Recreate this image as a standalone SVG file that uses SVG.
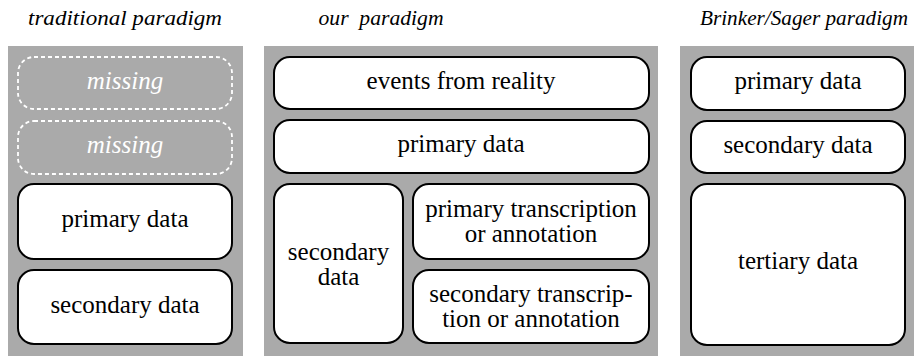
<svg xmlns="http://www.w3.org/2000/svg" width="914" height="356" viewBox="0 0 914 356">
  <style>
    .panel { fill: #aaaaaa; }
    .box { fill: #ffffff; stroke: #000000; stroke-width: 2; }
    .missing { fill: none; stroke: #ffffff; stroke-width: 1.8; stroke-dasharray: 4 3; }
    text { font-family: "Liberation Serif", "Tinos", "Noto Serif", "DejaVu Serif", "Times New Roman", Times, serif; font-size: 25px; fill: #000000; text-anchor: middle; }
    .title { font-size: 22px; font-style: italic; }
    .ghost { fill: #ffffff; font-style: italic; }
  </style>
  <rect width="914" height="356" fill="#ffffff"/>

  <!-- column titles -->
  <g id="titles">
    <text class="title" x="125" y="25" textLength="194" lengthAdjust="spacingAndGlyphs">traditional paradigm</text>
    <text class="title" x="381" y="25" textLength="125" lengthAdjust="spacingAndGlyphs" xml:space="preserve">our  paradigm</text>
    <text class="title" x="804" y="25" textLength="208" lengthAdjust="spacingAndGlyphs">Brinker/Sager paradigm</text>
  </g>

  <!-- grey column backgrounds -->
  <g id="panels">
    <rect class="panel" x="8" y="46" width="235" height="310"/>
    <rect class="panel" x="264" y="46" width="394" height="310"/>
    <rect class="panel" x="680" y="46" width="234" height="310"/>
  </g>

  <!-- traditional paradigm -->
  <g id="trad-missing-1">
    <rect class="missing" x="18" y="57" width="214" height="52" rx="16"/>
    <text class="ghost" x="125" y="89">missing</text>
  </g>
  <g id="trad-missing-2">
    <rect class="missing" x="18" y="121" width="214" height="53" rx="16"/>
    <text class="ghost" x="125" y="153">missing</text>
  </g>
  <g id="trad-primary">
    <rect class="box" x="18" y="184" width="214" height="75" rx="16"/>
    <text x="125" y="227">primary data</text>
  </g>
  <g id="trad-secondary">
    <rect class="box" x="18" y="270" width="214" height="74" rx="16"/>
    <text x="125" y="313">secondary data</text>
  </g>

  <!-- our paradigm -->
  <g id="our-events">
    <rect class="box" x="274" y="57" width="375" height="52" rx="16"/>
    <text x="461" y="89">events from reality</text>
  </g>
  <g id="our-primary">
    <rect class="box" x="274" y="120" width="375" height="53" rx="16"/>
    <text x="461" y="152">primary data</text>
  </g>
  <g id="our-secondary">
    <rect class="box" x="274" y="184" width="129" height="159" rx="16"/>
    <text x="338.5" y="260">secondary</text>
    <text x="338.5" y="285">data</text>
  </g>
  <g id="our-primary-transcription">
    <rect class="box" x="413" y="184" width="236" height="75" rx="16"/>
    <text x="531" y="216.5">primary transcription</text>
    <text x="531" y="241.5">or annotation</text>
  </g>
  <g id="our-secondary-transcription">
    <rect class="box" x="413" y="270" width="236" height="73" rx="16"/>
    <text x="531" y="302">secondary transcrip-</text>
    <text x="531" y="327">tion or annotation</text>
  </g>

  <!-- Brinker/Sager paradigm -->
  <g id="bs-primary">
    <rect class="box" x="691" y="57" width="214" height="53" rx="16"/>
    <text x="798" y="89">primary data</text>
  </g>
  <g id="bs-secondary">
    <rect class="box" x="691" y="121" width="214" height="52" rx="16"/>
    <text x="798" y="153">secondary data</text>
  </g>
  <g id="bs-tertiary">
    <rect class="box" x="691" y="184" width="214" height="161" rx="16"/>
    <text x="798" y="269">tertiary data</text>
  </g>

  <!-- no connectors in this figure -->
  <g id="connectors"/>
</svg>
